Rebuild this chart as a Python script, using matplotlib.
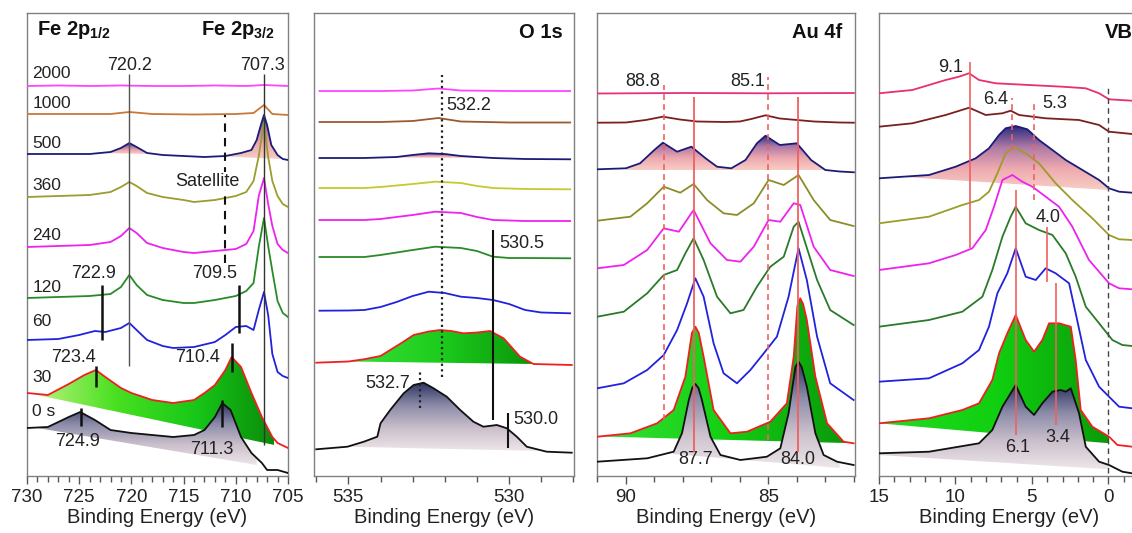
import numpy as np
import matplotlib
matplotlib.use('Agg')
import matplotlib.pyplot as plt
from matplotlib.colors import LinearSegmentedColormap
from matplotlib.patches import Polygon
from matplotlib.ticker import MultipleLocator

plt.rcParams['font.family'] = ['Liberation Sans', 'DejaVu Sans']
plt.rcParams['mathtext.fontset'] = 'custom'
plt.rcParams['mathtext.rm'] = 'Liberation Sans'
plt.rcParams['mathtext.bf'] = 'Liberation Sans:bold'

# ---------------- data: Fe 2p ----------------
sample_labels = ['2000', '1000', '500', '360', '240', '120', '60', '30', '0 s']

fe_2000_E = [730, 727, 724, 721, 718, 715, 712, 709, 707.3, 705]
fe_2000_I = [390, 390.5, 390, 390.5, 390, 390, 390.5, 390, 391, 390]
fe_1000_E = [730, 726, 722, 720.2, 718, 714, 710, 708.3, 707.3, 706.5, 705]
fe_1000_I = [362, 362, 362, 364, 362, 361.5, 362, 363, 371, 362, 361]
fe_500_E = [730, 727, 724, 722, 721, 720.2, 719.5, 718.5, 717, 715, 713, 711, 709.5, 708.5, 708, 707.6, 707.3, 707.0, 706.6, 706, 705.5, 705]
fe_500_I = [322, 322, 322, 324, 328, 333, 329, 323, 321, 320, 319, 320, 323, 326, 336, 351, 361, 351, 331, 321, 317, 316]
fe_E22 = [730, 727, 724, 722, 721, 720.2, 719.5, 718.5, 717, 715, 714, 712, 710, 709, 708.3, 707.8, 707.3, 706.9, 706.5, 706, 705.5, 705]
fe_360_I = [279, 280, 281, 284, 289, 294, 290, 283, 279, 276, 274, 276, 280, 284, 295, 320, 354, 319, 295, 280, 272, 269]
fe_240_I = [229, 230, 231, 234, 240, 248, 243, 233, 228, 224, 223, 225, 227, 232, 245, 280, 298, 272, 250, 232, 226, 223]
fe_120_I = [178, 179, 180, 182, 189, 201, 191, 181, 176, 173, 173, 176, 180, 185, 193, 229, 258, 230, 205, 175, 163, 159]
fe_60_E = [730, 727, 725, 723.5, 722.5, 721, 720.2, 719.5, 718.5, 717, 716, 714, 712, 711, 710, 709, 708.3, 707.8, 707.3, 706.9, 706.5, 706, 705.5, 705]
fe_60_I = [136, 137, 141, 145, 144, 148, 153, 146, 136, 130, 128, 129, 134, 141, 149, 150, 146, 166, 184, 161, 122, 104, 100, 98]
fe_30_E = [730, 728, 726, 724.5, 723.4, 722.5, 721, 720, 718, 716, 714, 713, 712, 711, 710.4, 709.5, 708.5, 707.5, 706.5, 706, 705]
fe_30_I = [83, 81, 92, 101, 106, 99, 88, 83, 76, 73, 76, 83, 91, 106, 119, 109, 83, 59, 39, 33, 28]
fe_0_E = [730, 728, 726, 724.9, 723.5, 722, 720, 718, 716, 714, 713, 712, 711.3, 710.5, 709.5, 708.5, 707.5, 707, 706, 705]
fe_0_I = [48, 49, 59, 64, 56, 46, 43, 41, 39, 41, 46, 59, 73, 66, 39, 23, 13, 6, 6, 3]
fe_peaks = [720.2, 707.3, 722.9, 709.5, 723.4, 710.4, 724.9, 711.3]

# ---------------- data: O 1s ----------------
o_E7 = [535.9, 534, 533, 532.2, 531.5, 530, 528.1]
o_2000_I = [385, 385, 385.5, 387.5, 385.5, 385, 385]
o_1000_I = [354, 354, 355, 358, 354.5, 353.5, 353.5]
o_500_E = [535.9, 534.5, 533.5, 533, 532.5, 532, 531.5, 530.5, 529.5, 528.1]
o_500_I = [318, 318, 319, 321, 322.7, 322, 320, 318, 317, 316.7]
o_E10 = [535.9, 534.5, 534, 533, 532.3, 531.5, 531, 530.5, 529.5, 528.1]
o_360_I = [288, 288, 289, 292, 294.3, 293, 290, 288, 287, 286.7]
o_240_I = [256, 256, 257, 261, 264.3, 263, 259, 256, 255, 255]
o_120_E = [535.9, 534.5, 534, 533, 532.3, 531.5, 531, 530.5, 530, 529.5, 528.1]
o_120_I = [219, 219, 221, 226, 229.3, 228, 225, 219.3, 218, 218, 217.7]
o_60_E = [535.9, 535, 534.5, 534, 533.5, 533, 532.5, 532, 531.5, 531, 530.5, 530, 529.5, 529, 528.1]
o_60_I = [165.3, 165.5, 166, 169, 174, 180, 184.3, 183, 179.3, 178, 176, 172, 166, 163.5, 162.7]
o_30_E = [536.0, 535, 534.52, 534, 533.7, 533.3, 532.97, 532.5, 532.14, 531.8, 531.42, 531.0, 530.59, 530.17, 529.9, 529.66, 529.24, 528.05]
o_30_I = [113.3, 114.5, 116.7, 120, 126, 134, 141, 144.5, 146, 145, 142.7, 143.5, 145, 137.7, 128, 119.3, 112, 111]
o_0_E = [536.0, 535.03, 534.52, 534.1, 534.0, 533.7, 533.28, 532.97, 532.66, 532.35, 531.94, 531.52, 531.11, 530.8, 530.38, 530.07, 529.76, 529.45, 528.83, 528.05]
o_0_I = [26.7, 29.3, 34.3, 39.3, 52.7, 66, 82.7, 91, 93.3, 87.7, 79.3, 66, 54.3, 49.3, 51, 47.7, 39.3, 29.3, 24.3, 23.3]
o_peaks = [532.2, 530.5, 532.7, 530.0]

# ---------------- data: Au 4f ----------------
au_2000_E = [91, 88, 85, 82]
au_2000_I = [382.5, 383, 382.7, 383]
au_1000_E = [91, 90, 89.3, 88.7, 88.1, 87.5, 86.5, 86, 85.6, 85.1, 84.6, 84, 83.4, 82.5, 82]
au_1000_I = [353.3, 353.5, 356, 359.3, 356.5, 354.5, 354, 354.5, 357, 360.7, 357.5, 356, 354.5, 353.5, 353.3]
au_500_E = [91, 90, 89.5, 89, 88.7, 88.2, 87.7, 87.2, 86.8, 86.3, 85.8, 85.4, 85.1, 84.6, 84.0, 83.5, 83.0, 82.5, 82]
au_500_I = [306.7, 307.7, 312.7, 326, 333.3, 324.3, 329.3, 317.7, 309.3, 307.7, 316, 332.7, 340.3, 331, 332.7, 316, 306, 304.5, 303.7]
au_360_E = [91.0, 89.84, 89.25, 88.67, 88.09, 87.62, 87.15, 86.57, 86.1, 85.51, 84.99, 84.46, 83.94, 83.41, 82.83, 82.01]
au_360_I = [255.3, 259.3, 272.7, 289.3, 283.3, 292, 276, 262.7, 261, 272.7, 296, 291, 301, 276, 256, 250]
au_240_E = [91.0, 90.07, 89.25, 88.67, 88.14, 87.62, 87.03, 86.45, 85.98, 85.51, 84.99, 84.58, 84.11, 83.88, 83.41, 82.83, 82.01]
au_240_I = [207.7, 211, 226, 247.7, 244.3, 266, 232.7, 216, 214.3, 229.3, 256, 254.3, 272.7, 271, 229.3, 206, 200]
au_120_E = [91.0, 90.07, 89.25, 88.67, 88.2, 87.91, 87.62, 87.27, 86.8, 86.33, 85.87, 85.4, 84.93, 84.46, 84.11, 83.94, 83.7, 83.29, 82.83, 82.01]
au_120_I = [159.3, 164.3, 182.7, 201, 206, 222.7, 237.7, 216, 179.3, 162.7, 166, 189.3, 209.3, 219.3, 249.3, 254.3, 232.7, 196, 166, 151]
au_60_E = [91.0, 90.07, 89.25, 88.67, 88.2, 87.85, 87.56, 87.27, 86.92, 86.57, 86.1, 85.63, 85.16, 84.7, 84.29, 83.94, 83.65, 83.29, 82.83, 82.01]
au_60_I = [87.7, 92.7, 106, 121, 146, 172.7, 197.7, 179.3, 132.7, 102.7, 92.7, 106, 122.7, 139.3, 179.3, 227.7, 196, 139.3, 92.7, 76]
au_30_E = [91.0, 89.84, 88.9, 88.32, 87.91, 87.68, 87.56, 87.44, 87.27, 86.92, 86.33, 85.75, 84.93, 84.35, 84.11, 83.98, 83.88, 83.78, 83.65, 83.35, 82.94, 82.36, 82.01]
au_30_I = [39.3, 42.7, 52.7, 66, 99.3, 143, 149.3, 143, 119.3, 66, 42.7, 44.3, 54.3, 72.7, 119.3, 170, 177.7, 172, 156, 99.3, 52.7, 34.3, 32.7]
au_0_E = [91.0, 89.25, 88.32, 88.03, 87.79, 87.67, 87.56, 87.45, 87.33, 87.03, 86.68, 85.98, 85.05, 84.58, 84.29, 84.05, 83.94, 83.83, 83.65, 83.35, 83.06, 82.59, 82.01]
au_0_I = [14.3, 17.7, 24.3, 42.7, 76, 88, 92, 88, 76, 39.3, 21, 16, 19.3, 27.7, 62.7, 109, 114.3, 109, 89.3, 42.7, 21, 14.3, 11]
au_peaks = [88.8, 85.1, 87.7, 84.0]

# ---------------- data: VB ----------------
vb_2000_E = [15, 12.82, 10.64, 9.77, 9.11, 8.46, 7.37, 5.19, 3.01, 1.48, 0.61, -0.04, -1.55, -2]
vb_2000_I = [382.7, 386, 396, 399.3, 402.7, 396, 392.7, 391, 389.3, 387.7, 382.7, 376.7, 375.3, 375.3]
vb_1000_E = [15, 12.82, 10.64, 9.11, 8.02, 6.93, 6.39, 5.84, 4.1, 1.92, 0.61, -0.04, -1.55, -2]
vb_1000_I = [349.3, 352.7, 361, 368.3, 361, 362.7, 365.3, 361, 357.7, 356, 351, 344.3, 342, 342]
vb_500_E = [15, 11.73, 9.99, 8.68, 7.81, 7.15, 6.72, 6.06, 5.3, 4.54, 3.66, 2.79, 1.7, 0.61, -0.04, -0.7, -1.55, -2]
vb_500_I = [297.7, 301, 309.3, 317.7, 327.7, 341, 347.7, 350, 346.7, 336, 326, 316, 306, 296, 287.7, 284.3, 283.3, 283.3]
vb_360_E = [15, 11.73, 9.55, 8.46, 7.81, 7.26, 6.72, 6.17, 5.41, 4.54, 3.45, 2.36, 1.05, -0.04, -0.7, -1.55, -2]
vb_360_I = [252.7, 259.3, 271, 276, 284.3, 302.7, 322.7, 328.7, 322.7, 312.7, 292.7, 276, 257.7, 241, 236.7, 236, 236]
vb_240_E = [15, 11.73, 9.99, 8.9, 8.02, 7.48, 6.93, 6.28, 5.63, 4.97, 4.1, 3.23, 2.36, 1.27, -0.04, -0.7, -1.55, -2]
vb_240_I = [206, 212.7, 221, 227.7, 246, 269.3, 296, 301, 294.3, 289.3, 279.3, 269.3, 249.3, 216, 192.7, 187.7, 186.7, 186.7]
vb_120_E = [15, 11.73, 9.55, 8.24, 7.59, 6.93, 6.39, 6.06, 5.41, 4.54, 3.66, 2.79, 2.14, 1.48, 0.61, -0.26, -0.91, -1.55, -2]
vb_120_I = [149.3, 156, 164.3, 179.3, 206, 239.3, 259.3, 269.3, 252.7, 246, 241, 222.7, 199.3, 169.3, 152.7, 136, 131, 130, 130]
vb_60_E = [15, 11.73, 9.55, 8.46, 7.81, 7.26, 6.61, 6.06, 5.41, 4.75, 4.1, 3.45, 2.57, 2.14, 1.48, 0.61, -0.04, -0.7, -1.55, -2]
vb_60_I = [94.3, 97.7, 112.7, 126, 149.3, 182.7, 202.7, 227.7, 199.3, 196, 207.7, 202.7, 192.7, 162.7, 116, 89.3, 79.3, 69.3, 67.7, 67.7]
vb_30_E = [15, 11.73, 9.55, 8.46, 7.59, 7.15, 6.61, 6.06, 5.41, 4.86, 4.32, 3.88, 3.23, 2.46, 2.14, 1.81, 1.05, -0.04, -0.59, -1.55, -2]
vb_30_I = [52.7, 57.7, 66, 72.7, 96, 122.7, 142.7, 161, 136, 124.3, 136, 152.7, 152.7, 149.3, 116, 66, 49.3, 39.3, 31, 29.3, 29.3]
vb_0_E = [15, 11.73, 8.46, 7.59, 6.93, 6.06, 5.41, 4.86, 4.32, 3.66, 3.12, 2.79, 2.46, 1.92, 1.48, 0.61, -0.04, -0.91, -1.55, -2]
vb_0_I = [22.7, 24.3, 32.7, 46, 69.3, 91, 69.3, 61, 72.7, 84.3, 86, 84.3, 87.7, 62.7, 29.3, 14.3, 11, 4.3, 2.7, 2.7]
vb_peaks = [9.1, 6.4, 5.3, 4.0, 6.1, 3.4]

# ---------------- styling ----------------
GREEN_FE = ['#b8f27c', '#48e020', '#18c818', '#0a8c0a']
GREEN_O = ['#3ae03a', '#1ccc1c', '#0a940a']
GREEN_AU = ['#36e036', '#14d014', '#0a980a']
GREEN_VB = ['#22dc22', '#10d010', '#0a9a0a']
GRAY = ['#eee6ea', '#cabfcb', '#8a8aa8', '#2c3360']
PINK = ['#f8cdc4', '#eeaab0', '#b07aa6', '#2c2c80']

LW = 1.3


def grad_fill(ax, E, I, bE, bI, colors, vertical):
    E = np.asarray(E, float)
    I = np.asarray(I, float)
    o = np.argsort(E)
    Es, Is = E[o], I[o]
    bE = np.asarray(bE, float)
    bI = np.asarray(bI, float)
    bo = np.argsort(bE)
    bEs, bIs = bE[bo], bI[bo]
    lo, hi = bEs[0], bEs[-1]
    xs = np.unique(np.concatenate([[lo, hi], Es[(Es > lo) & (Es < hi)]]))
    top = np.interp(xs, Es, Is)
    base = np.interp(xs, bEs, bIs)
    top = np.maximum(top, base)
    verts = np.concatenate([np.column_stack([xs, top]),
                            np.column_stack([xs[::-1], base[::-1]])])
    poly = Polygon(verts, closed=True, facecolor='none', edgecolor='none')
    ax.add_patch(poly)
    cmap = LinearSegmentedColormap.from_list('g', colors)
    if vertical:
        arr = np.linspace(0, 1, 256).reshape(-1, 1)
    else:
        arr = np.linspace(0, 1, 256).reshape(1, -1)
    im = ax.imshow(arr, cmap=cmap, extent=(hi, lo, base.min(), top.max()),
                   origin='lower', aspect='auto', zorder=1, interpolation='bilinear')
    im.set_clip_path(poly)


def setup(ax, xlim, major, minor):
    ax.set_xlim(*xlim)
    ax.set_ylim(0, 463)
    ax.set_yticks([])
    ax.xaxis.set_major_locator(MultipleLocator(major))
    ax.xaxis.set_minor_locator(MultipleLocator(minor))
    ax.tick_params(axis='x', which='major', direction='out', length=6, width=1,
                   color='#555555', labelsize=13.5, pad=3, labelcolor='#222222')
    ax.tick_params(axis='x', which='minor', direction='out', length=4, width=1,
                   color='#555555')
    for s in ax.spines.values():
        s.set_color('#808080')
        s.set_linewidth(1.0)
    ax.set_xlabel('Binding Energy (eV)', fontsize=14.5, color='#222222', labelpad=2)


def txt(ax, x, y, s, ha='center', size=13, **kw):
    ax.text(x, y, s, ha=ha, va='center', fontsize=size, color='#222222', **kw)


fig = plt.figure(figsize=(11.32, 5.33), dpi=100)
W, H = 1132.0, 533.0


def axes_px(left, right, top=13, bottom=476):
    return fig.add_axes([left / W, (H - bottom) / H, (right - left) / W, (bottom - top) / H])


# ================= Fe 2p =================
ax1 = axes_px(27, 288)
setup(ax1, (730, 705), 5, 1)
fe_cols = ['#ff44ff', '#c8783a', '#1c1c78', '#9c9c30', '#ee22ee', '#2a8a2a', '#2222dd', '#ee2020', '#111111']
grad_fill(ax1, fe_500_E, fe_500_I, [723, 718.3], [323, 322], PINK, True)
grad_fill(ax1, fe_500_E, fe_500_I, [712, 705.5], [320, 317], PINK, True)
grad_fill(ax1, fe_30_E, fe_30_I, [729, 706.3], [81, 31], GREEN_FE, False)
grad_fill(ax1, fe_0_E, fe_0_I, [729, 708], [48, 11], GRAY, True)
fe_series = [(fe_2000_E, fe_2000_I), (fe_1000_E, fe_1000_I), (fe_500_E, fe_500_I),
             (fe_E22, fe_360_I), (fe_E22, fe_240_I), (fe_E22, fe_120_I),
             (fe_60_E, fe_60_I), (fe_30_E, fe_30_I), (fe_0_E, fe_0_I)]
for (e, i), c in zip(fe_series, fe_cols):
    ax1.plot(e, i, color=c, lw=LW, zorder=3)

ax1.vlines(fe_peaks[0], 110, 402, color='#555555', lw=1, zorder=4)
ax1.vlines(fe_peaks[1], 31, 402, color='#333333', lw=1, zorder=4)
ax1.vlines(711.0, 213, 361, color='#111111', lw=1.5, linestyles=(0, (4, 3)), zorder=4)
ax1.vlines(722.85, 136, 191, color='#111111', lw=1.8, zorder=4)
ax1.vlines(709.65, 143, 191, color='#111111', lw=1.8, zorder=4)
ax1.vlines(fe_peaks[4], 89, 110, color='#111111', lw=1.8, zorder=4)
ax1.vlines(fe_peaks[5], 104, 133, color='#111111', lw=1.8, zorder=4)
ax1.vlines(724.85, 50, 68, color='#111111', lw=1.8, zorder=4)
ax1.vlines(711.35, 49, 76, color='#111111', lw=1.8, zorder=4)

txt(ax1, 720.2, 411, '%.1f' % fe_peaks[0])
txt(ax1, 707.4, 411, '%.1f' % fe_peaks[1])
txt(ax1, 712.76, 295, 'Satellite', zorder=5,
    bbox=dict(facecolor='white', edgecolor='none', pad=0.3))
txt(ax1, 723.6, 203, '%.1f' % fe_peaks[2])
txt(ax1, 712.0, 203, '%.1f' % fe_peaks[3])
txt(ax1, 725.5, 119, '%.1f' % fe_peaks[4])
txt(ax1, 713.7, 119, '%.1f' % fe_peaks[5])
txt(ax1, 725.2, 34, '%.1f' % fe_peaks[6])
txt(ax1, 712.3, 26, '%.1f' % fe_peaks[7])
for lab, yy in zip(sample_labels, [403, 373, 333, 291, 241, 189, 154, 98, 64]):
    txt(ax1, 729.5, yy, lab, ha='left', size=12.5)
ax1.text(729.0, 446, r'Fe 2p$_{\mathbf{1/2}}$', ha='left', va='center', fontsize=14.5,
         fontweight='bold', color='#111111')
ax1.text(706.25, 446, r'Fe 2p$_{\mathbf{3/2}}$', ha='right', va='center', fontsize=14.5,
         fontweight='bold', color='#111111')

# ================= O 1s =================
ax2 = axes_px(314, 574)
setup(ax2, (536.07, 527.98), 5, 1)
o_cols = ['#ff44ff', '#9a5a30', '#1c1c78', '#c8c830', '#ee22ee', '#2a8a2a', '#2222dd', '#ee2020', '#111111']
grad_fill(ax2, o_500_E, o_500_I, [534, 530.5], [318.5, 318], PINK, True)
grad_fill(ax2, o_30_E, o_30_I, [535.0, 529.2], [114.5, 112], GREEN_O, False)
grad_fill(ax2, o_0_E, o_0_I, [535.03, 529.0], [29.3, 25], GRAY, True)
o_series = [(o_E7, o_2000_I), (o_E7, o_1000_I), (o_500_E, o_500_I), (o_E10, o_360_I),
            (o_E10, o_240_I), (o_120_E, o_120_I), (o_60_E, o_60_I), (o_30_E, o_30_I),
            (o_0_E, o_0_I)]
for (e, i), c in zip(o_series, o_cols):
    ax2.plot(e, i, color=c, lw=LW, zorder=3)
ax2.vlines(532.1, 99, 401, color='#222222', lw=1.6, linestyles=(0, (1, 1.5)), zorder=4)
ax2.vlines(530.49, 56, 246, color='#111111', lw=1.5, zorder=4)
ax2.vlines(532.77, 68, 106, color='#222222', lw=1.6, linestyles=(0, (1, 1.5)), zorder=4)
ax2.vlines(530.02, 28, 63, color='#111111', lw=1.5, zorder=4)
txt(ax2, 531.96, 371, '%.1f' % o_peaks[0], ha='left')
txt(ax2, 530.31, 232, '%.1f' % o_peaks[1], ha='left')
txt(ax2, 533.08, 93, '%.1f' % o_peaks[2], ha='right')
txt(ax2, 529.88, 56, '%.1f' % o_peaks[3], ha='left')
ax2.text(528.33, 443, 'O 1s', ha='right', va='center', fontsize=14.5, fontweight='bold',
         color='#111111')

# ================= Au 4f =================
ax3 = axes_px(597, 855)
setup(ax3, (91.01, 81.96), 5, 1)
au_cols = ['#e8307a', '#7a2020', '#1c1c78', '#8c8c2a', '#ee22ee', '#2a7a2a', '#2222dd', '#ee2020', '#111111']
grad_fill(ax3, au_500_E, au_500_I, [90, 82.8], [305.5, 305.5], PINK, True)
grad_fill(ax3, au_30_E, au_30_I, [90.9, 82.3], [39.5, 33], GREEN_AU, False)
grad_fill(ax3, au_0_E, au_0_I, [88.35, 82.5], [22, 8], GRAY, True)
au_series = [(au_2000_E, au_2000_I), (au_1000_E, au_1000_I), (au_500_E, au_500_I),
             (au_360_E, au_360_I), (au_240_E, au_240_I), (au_120_E, au_120_I),
             (au_60_E, au_60_I), (au_30_E, au_30_I), (au_0_E, au_0_I)]
for (e, i), c in zip(au_series, au_cols):
    ax3.plot(e, i, color=c, lw=LW, zorder=3)
RED = '#f06060'
ax3.vlines(88.66, 56, 391, color=RED, lw=1.2, linestyles=(0, (3.5, 2.5)), zorder=4)
ax3.vlines(85.0, 36, 399, color=RED, lw=1.2, linestyles=(0, (3.5, 2.5)), zorder=4)
ax3.vlines(87.6, 24, 379, color=RED, lw=1.3, zorder=4)
ax3.vlines(83.95, 24, 379, color=RED, lw=1.3, zorder=4)
txt(ax3, 88.79, 394, '%.1f' % au_peaks[0], ha='right')
txt(ax3, 85.12, 394, '%.1f' % au_peaks[1], ha='right')
txt(ax3, 87.57, 16, '%.1f' % au_peaks[2])
txt(ax3, 83.96, 16, '%.1f' % au_peaks[3])
ax3.text(82.39, 443, 'Au 4f', ha='right', va='center', fontsize=14.5, fontweight='bold',
         color='#111111')

# ================= VB =================
ax4 = axes_px(879, 1139)
setup(ax4, (15, -2.0), 5, 1)
vb_cols = ['#e8306a', '#7a2020', '#1c1c78', '#9c9c2a', '#ee22ee', '#2a7a2a', '#2222dd', '#ee2020', '#111111']
grad_fill(ax4, vb_500_E, vb_500_I, [13.5, 0], [299.2, 286], PINK, True)
grad_fill(ax4, vb_30_E, vb_30_I, [15, -0.04], [52.7, 32.7], GREEN_VB, False)
grad_fill(ax4, vb_0_E, vb_0_I, [15, 0], [21, 6.7], GRAY, True)
vb_series = [(vb_2000_E, vb_2000_I), (vb_1000_E, vb_1000_I), (vb_500_E, vb_500_I),
             (vb_360_E, vb_360_I), (vb_240_E, vb_240_I), (vb_120_E, vb_120_I),
             (vb_60_E, vb_60_I), (vb_30_E, vb_30_I), (vb_0_E, vb_0_I)]
for (e, i), c in zip(vb_series, vb_cols):
    ax4.plot(e, i, color=c, lw=LW, zorder=3)
ax4.vlines(9.05, 228, 414, color=RED, lw=1.2, zorder=4)
ax4.vlines(6.32, 326, 378, color=RED, lw=1.2, linestyles=(0, (3.5, 2.5)), zorder=4)
ax4.vlines(4.86, 276, 376, color=RED, lw=1.2, linestyles=(0, (3.5, 2.5)), zorder=4)
ax4.vlines(3.99, 194, 249, color=RED, lw=1.2, zorder=4)
ax4.vlines(6.06, 41, 286, color=RED, lw=1.2, zorder=4)
ax4.vlines(3.42, 51, 193, color=RED, lw=1.2, zorder=4)
ax4.vlines(0, 3, 391, color='#444444', lw=1.0, linestyles=(0, (4, 3)), zorder=4)
txt(ax4, 9.51, 409, '%.1f' % vb_peaks[0], ha='right')
txt(ax4, 6.56, 376, '%.1f' % vb_peaks[1], ha='right')
txt(ax4, 4.34, 373, '%.1f' % vb_peaks[2], ha='left')
txt(ax4, 3.95, 259, '%.1f' % vb_peaks[3])
txt(ax4, 5.91, 29, '%.1f' % vb_peaks[4])
txt(ax4, 3.29, 38, '%.1f' % vb_peaks[5])
ax4.text(0.2, 443, 'VB', ha='left', va='center', fontsize=14.5, fontweight='bold',
         color='#111111')

fig.savefig('out.png', dpi=100)
